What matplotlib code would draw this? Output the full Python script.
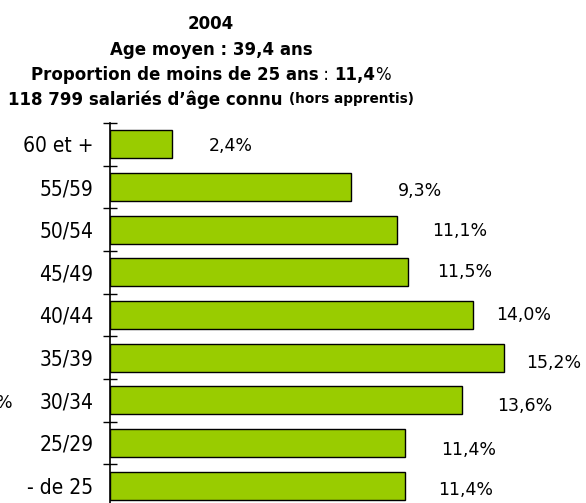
import matplotlib
import numpy as np

matplotlib.use("Agg")
import matplotlib.pyplot as plt

# Age groups, top to bottom
categories = ["60 et +", "55/59", "50/54", "45/49", "40/44",
              "35/39", "30/34", "25/29", "- de 25"]
shares = [2.4, 9.3, 11.1, 11.5, 14.0, 15.2, 13.6, 11.4, 11.4]

# label offsets from bar end (points) as placed in the original
label_dx = [26, 34, 25, 21, 17, 16, 25, 26, 24]
label_dy = [-1, -3, -1, 0, 0, -4, -4, -5, -3]

BAR_COLOR = "#99CC00"
FONT = "DejaVu Sans"

plt.rcParams.update({"font.family": FONT})

W, H = 586, 503
fig = plt.figure(figsize=(W / 100, H / 100), dpi=100)

ax_left, ax_top, ax_bottom = 110, 123, 507
ax = fig.add_axes([ax_left / W, (H - ax_bottom) / H,
                   (W - ax_left) / W, (ax_bottom - ax_top) / H])

y = np.arange(len(categories))
ax.barh(y, shares, height=0.66, color=BAR_COLOR, edgecolor="black",
        linewidth=1.0)
ax.set_xlim(0, (W - ax_left) / 25.9)
ax.set_ylim(len(categories) - 0.5, -0.5)

for yi, v, dx, dy in zip(y, shares, label_dx, label_dy):
    ax.annotate(f"{v:.1f}%".replace(".", ","), xy=(v, yi),
                xytext=(dx, dy), textcoords="offset points",
                ha="left", va="center", fontsize=12.5)

ax.set_yticks(y)
ax.set_yticklabels(categories, fontsize=15, fontstretch="condensed")
ax.tick_params(axis="y", which="major", length=0, pad=12)
ax.set_yticks(np.arange(len(categories) + 1) - 0.5, minor=True)
ax.tick_params(axis="y", which="minor", direction="inout", length=9.5,
               width=1.0)
ax.set_xticks([])
for s in ["top", "right", "bottom"]:
    ax.spines[s].set_visible(False)
ax.spines["left"].set_linewidth(1.2)

# title block with mixed weights
renderer = fig.canvas.get_renderer()
cx = 211 / W
lines = [
    (22, [("2004", "bold", 12)]),
    (48, [("Age moyen : 39,4 ans", "bold", 12)]),
    (73, [("Proportion de moins de 25 ans", "bold", 12),
          (" : ", "normal", 12), ("11,4", "bold", 12), ("%", "normal", 12)]),
    (98, [("118 799 salariés d’âge connu ", "bold", 12),
          ("(hors apprentis)", "bold", 9.8)]),
]
for ypix, parts in lines:
    texts = [fig.text(0, 1 - ypix / H, s, fontweight=w, fontsize=fs,
                      va="center_baseline")
             for s, w, fs in parts]
    widths = [t.get_window_extent(renderer).width for t in texts]
    x = cx * W - sum(widths) / 2
    for t, wd in zip(texts, widths):
        t.set_x(x / W)
        x += wd

# clipped fragment at the left edge
fig.text(-4 / W, 1 - 403 / H, "%", fontsize=12.5, va="center")

fig.savefig("out.png", dpi=100)
